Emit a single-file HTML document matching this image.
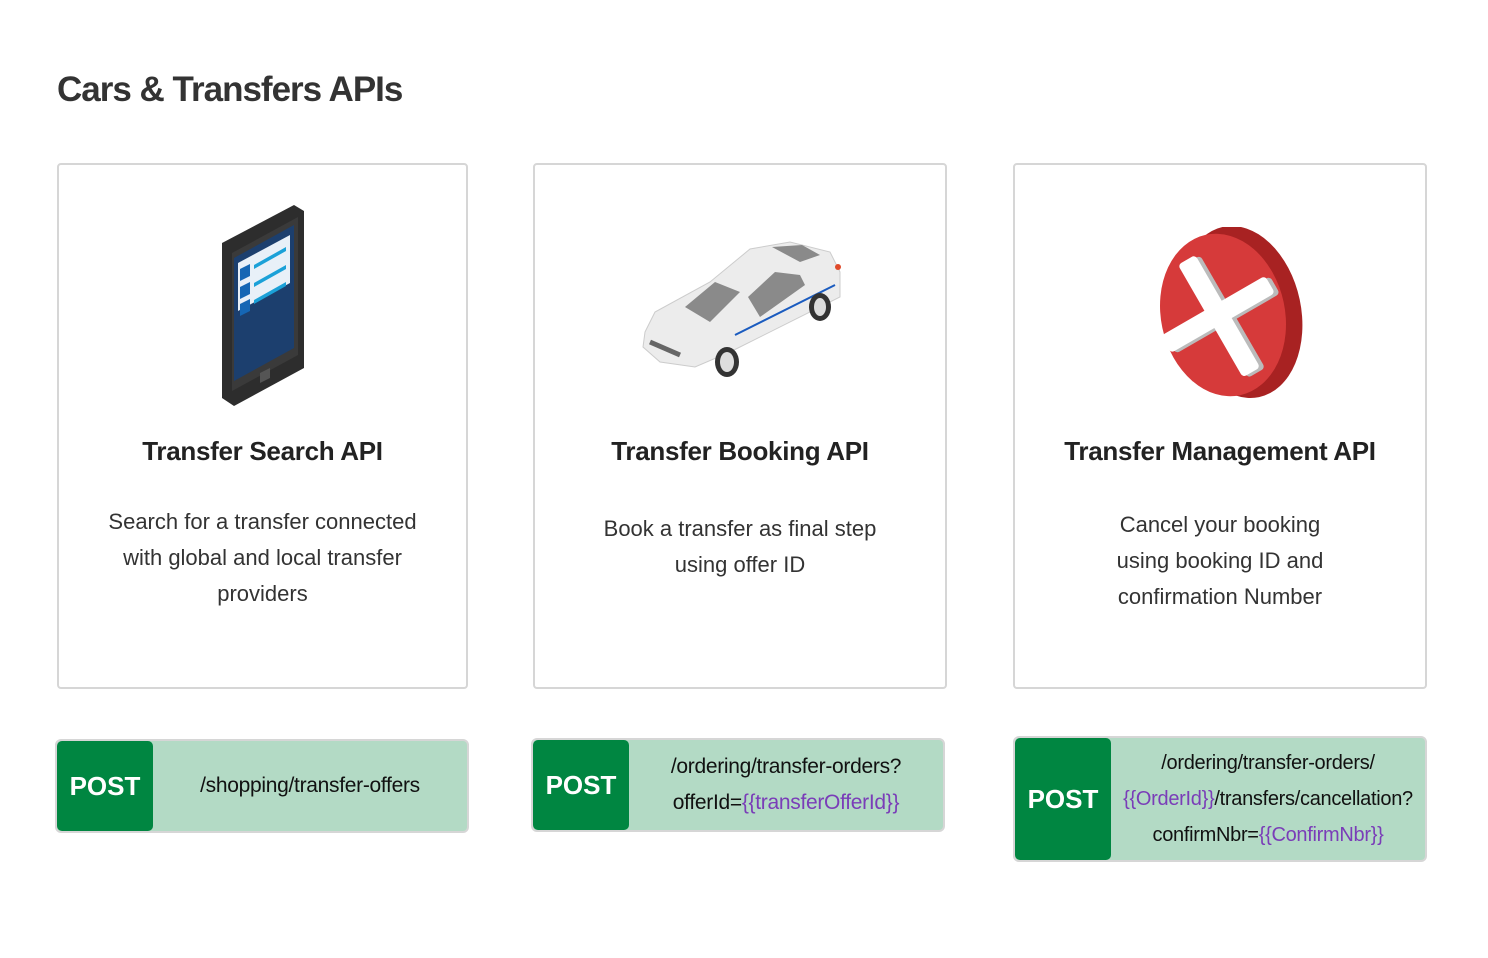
<!DOCTYPE html>
<html><head><meta charset="utf-8"><style>
body{margin:0;width:1488px;height:958px;background:#fff;font-family:"Liberation Sans",sans-serif;position:relative;overflow:hidden;color:#222}
.t{position:absolute;left:57px;top:70px;font-size:35px;font-weight:bold;color:#333;letter-spacing:-1px}
.card{position:absolute;top:163px;height:526px;border:2px solid #d6d6d6;border-radius:4px;box-sizing:border-box}
.h{position:absolute;top:271px;width:100%;text-align:center;font-size:26px;font-weight:bold;color:#222;letter-spacing:-0.3px}
.d{position:absolute;width:100%;text-align:center;font-size:22px;line-height:36px;color:#333}
.bar{position:absolute;background:#b3dac5;border:2px solid #d6d6d6;border-radius:6px;box-sizing:border-box;overflow:hidden}
.g{position:absolute;left:0;top:0;bottom:0;width:96px;background:#008641;border-radius:5px;color:#fff;font-weight:bold;font-size:26px;display:flex;align-items:center;justify-content:center}
.p{position:absolute;left:96px;right:0;top:0;bottom:0;display:flex;flex-direction:column;justify-content:center;align-items:center;font-size:21px;line-height:36px;color:#111;letter-spacing:-0.3px}
.v{color:#7a3db8}
svg{position:absolute}
</style></head><body>
<div class="t">Cars &amp; Transfers APIs</div>

<div class="card" style="left:57px;width:411px">
<svg style="left:155px;top:38px" width="100" height="205" viewBox="0 0 100 205">
<polygon points="8,40 80,2 90,8 90,165 20,203 8,195" fill="#2d2d2d"/>
<polygon points="18,50 84,14 84,152 18,188" fill="#3a3a3a"/>
<polygon points="20,55 80,22 80,145 20,178" fill="#1c3f6e"/>
<polygon points="24,60 76,32 76,80 24,108" fill="#e8f0f8"/>
<polygon points="26,66 36,61 36,73 26,78" fill="#1566b4"/>
<polygon points="26,84 36,79 36,91 26,96" fill="#1566b4"/>
<polygon points="26,101 36,96 36,108 26,113" fill="#1566b4"/>
<polygon points="40,62 72,44 72,48 40,66" fill="#1ba1d8"/>
<polygon points="40,80 72,62 72,66 40,84" fill="#1ba1d8"/>
<polygon points="40,97 72,79 72,83 40,101" fill="#1ba1d8"/>
<polygon points="46,170 56,165 56,175 46,180" fill="#555"/>
</svg>
<div class="h">Transfer Search API</div>
<div class="d" style="top:339px">Search for a transfer connected<br>with global and local transfer<br>providers</div>
</div>

<div class="card" style="left:533px;width:414px">
<svg style="left:105px;top:72px" width="205" height="145" viewBox="0 0 205 145">
<path d="M5,95 L15,75 L70,45 L110,12 L150,5 L190,15 L200,35 L200,60 L90,115 L55,130 L20,125 L3,110 Z" fill="#ececec" stroke="#ccc"/>
<path d="M45,70 L75,45 L100,55 L70,85 Z" fill="#8a8a8a"/>
<path d="M108,60 L135,35 L160,38 L165,48 L120,80 Z" fill="#8a8a8a"/>
<path d="M132,10 L162,8 L180,18 L160,25 Z" fill="#8a8a8a"/>
<path d="M95,98 L195,48" stroke="#1a5bbf" stroke-width="2"/>
<path d="M10,105 L40,118" stroke="#666" stroke-width="5"/>
<ellipse cx="87" cy="125" rx="12" ry="15" fill="#333"/><ellipse cx="87" cy="125" rx="7" ry="10" fill="#ddd"/>
<ellipse cx="180" cy="70" rx="11" ry="14" fill="#333"/><ellipse cx="180" cy="70" rx="6" ry="9" fill="#ddd"/>
<circle cx="198" cy="30" r="3" fill="#e04a2a"/>
</svg>
<div class="h">Transfer Booking API</div>
<div class="d" style="top:346px">Book a transfer as final step<br>using offer ID</div>
</div>

<div class="card" style="left:1013px;width:414px">
<svg style="left:140px;top:62px" width="150" height="175" viewBox="0 0 150 175">
<ellipse cx="86" cy="85" rx="60" ry="87" fill="#a82222" transform="rotate(-12 86 85)"/>
<ellipse cx="68" cy="88" rx="62" ry="82" fill="#d63a3a" transform="rotate(-12 68 88)"/>
<g transform="rotate(-30 68 88)">
<rect x="58" y="25" width="20" height="130" rx="4" fill="#bbb"/>
<rect x="8" y="78" width="120" height="20" rx="4" fill="#bbb"/>
<rect x="54" y="22" width="20" height="130" rx="4" fill="#fff"/>
<rect x="4" y="75" width="120" height="20" rx="4" fill="#fff"/>
</g>
</svg>
<div class="h">Transfer Management API</div>
<div class="d" style="top:342px">Cancel your booking<br>using booking ID and<br>confirmation Number</div>
</div>

<div class="bar" style="left:55px;top:739px;width:414px;height:94px"><div class="g">POST</div><div class="p">/shopping/transfer-offers</div></div>
<div class="bar" style="left:531px;top:738px;width:414px;height:94px"><div class="g">POST</div><div class="p"><span>/ordering/transfer-orders?</span><span>offerId=<span class="v">{{transferOfferId}}</span></span></div></div>
<div class="bar" style="left:1013px;top:736px;width:414px;height:126px"><div class="g">POST</div><div class="p" style="font-size:20px"><span>/ordering/transfer-orders/</span><span><span class="v">{{OrderId}}</span>/transfers/cancellation?</span><span>confirmNbr=<span class="v">{{ConfirmNbr}}</span></span></div></div>
</body></html>
